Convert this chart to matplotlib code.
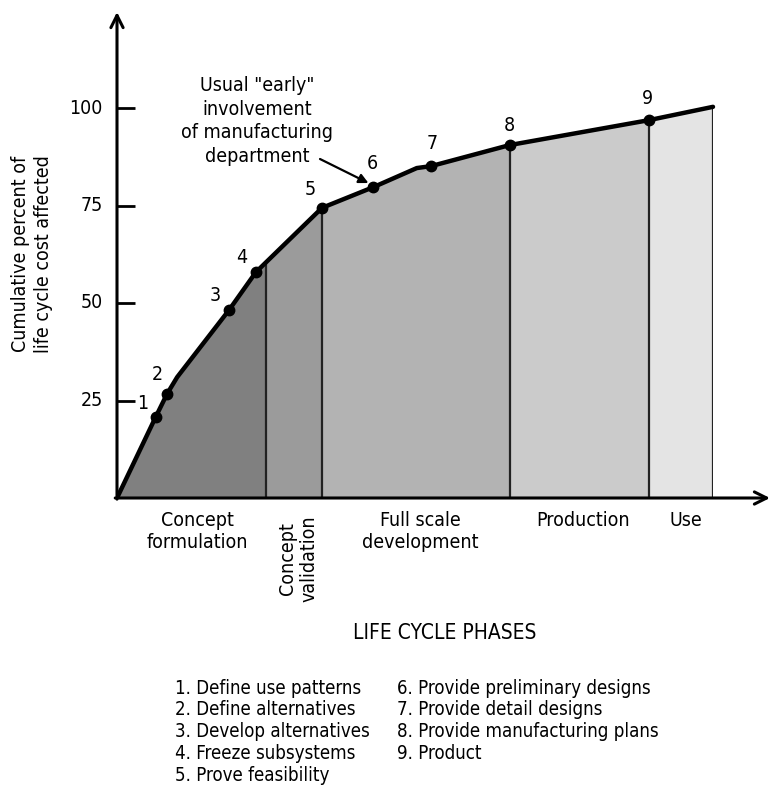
import matplotlib
matplotlib.use("Agg")
import matplotlib.pyplot as plt
from matplotlib.patches import Polygon
import numpy as np

# ---- data ----
curve_x = [0, 6.5, 8.4, 10.1, 18.8, 23.3, 34.4, 43.0, 50.3, 52.7, 65.9, 89.3, 100]
curve_y = [0, 20.8, 26.7, 31.0, 48.2, 57.9, 74.4, 79.7, 84.6, 85.1, 90.5, 96.9, 100.3]
milestone_idx = [1, 2, 4, 5, 6, 7, 9, 10, 11]
milestone_labels = ["1", "2", "3", "4", "5", "6", "7", "8", "9"]
phase_edges = [0, 25.0, 34.4, 65.9, 89.3, 100]
phase_names = ["Concept\nformulation", "Concept\nvalidation", "Full scale\ndevelopment",
               "Production", "Use"]
phase_colors = ["#808080", "#9b9b9b", "#b3b3b3", "#cbcbcb", "#e4e4e4"]
y_ticks = [25, 50, 75, 100]
legend_col1 = ["1. Define use patterns", "2. Define alternatives", "3. Develop alternatives",
               "4. Freeze subsystems", "5. Prove feasibility"]
legend_col2 = ["6. Provide preliminary designs", "7. Provide detail designs",
               "8. Provide manufacturing plans", "9. Product"]

plt.rcParams['font.family'] = ['DejaVu Sans']
plt.rcParams['font.stretch'] = 'condensed'
FS = 14
FS_LEG = 13.4

W, H = 774, 794
fig = plt.figure(figsize=(W / 100, H / 100), dpi=100)

def fx(px):
    return px / W

def fy(py):
    return 1 - py / H

# axes: origin at px (117, 498); x arrow tip at 770, y arrow tip at 12
ax = fig.add_axes([fx(117), fy(498), fx(770) - fx(117), fy(12) - fy(498)])
xmax = (770 - 117) / 5.96
ymax = (498 - 12) / 3.9
ax.set_xlim(0, xmax)
ax.set_ylim(0, ymax)
for s in ax.spines.values():
    s.set_visible(False)
ax.set_xticks([])
ax.set_yticks([])

# area under curve as clip polygon
cx = np.array(curve_x)
cy = np.array(curve_y)
poly_pts = np.column_stack([np.r_[cx, cx[-1], cx[0]], np.r_[cy, 0, 0]])
clip = Polygon(poly_pts, closed=True, transform=ax.transData, facecolor='none', edgecolor='none')
ax.add_patch(clip)

for i in range(len(phase_names)):
    sp = ax.axvspan(phase_edges[i], phase_edges[i + 1], facecolor=phase_colors[i],
                    edgecolor='none', zorder=1)
    sp.set_clip_path(clip)
    ln = ax.axvline(phase_edges[i + 1], color='#222222', lw=1.6, zorder=2)
    ln.set_clip_path(clip)

# curve
ax.plot(cx, cy, color='black', lw=3.2, solid_capstyle='round', solid_joinstyle='round', zorder=4)
ax.plot(cx[milestone_idx], cy[milestone_idx], 'o', color='black', ms=7.5, zorder=5)

offsets = [(-13, 13), (-10, 19), (-14, 15), (-14, 15), (-12, 18), (-1, 24), (1, 23), (0, 20), (-2, 22)]
for k, (i, lab) in enumerate(zip(milestone_idx, milestone_labels)):
    dx, dy = offsets[k]
    ax.annotate(lab, (cx[i], cy[i]), xytext=(dx * 0.72, dy * 0.72), textcoords='offset points',
                ha='center', va='center', fontsize=FS, zorder=6)

# axes arrows
ax.annotate('', xy=(xmax, 0), xytext=(-0.3, 0), xycoords='data',
            arrowprops=dict(arrowstyle='->', lw=2.2, color='black', mutation_scale=22,
                            shrinkA=0, shrinkB=0), annotation_clip=False)
ax.annotate('', xy=(0, ymax), xytext=(0, -0.3), xycoords='data',
            arrowprops=dict(arrowstyle='->', lw=2.2, color='black', mutation_scale=22,
                            shrinkA=0, shrinkB=0), annotation_clip=False)

# y ticks (inward) and labels
for t in y_ticks:
    ax.plot([0, 3.1], [t, t], color='black', lw=2.0, zorder=3, solid_capstyle='butt')
    ax.text(-2.4, t, str(t), ha='right', va='center', fontsize=FS)

# annotation
fig.text(fx(257), fy(121), 'Usual "early"\ninvolvement\nof manufacturing\ndepartment',
         ha='center', va='center', fontsize=FS, linespacing=1.33)
ax.annotate('', xy=(cx[7] - 0.6, cy[7] + 0.9), xytext=(fx(320), fy(159)),
            textcoords='figure fraction',
            arrowprops=dict(arrowstyle='-|>', lw=1.6, color='black', mutation_scale=14,
                            shrinkA=0, shrinkB=1))

# y label
fig.text(fx(32), fy(254), "Cumulative percent of\nlife cycle cost affected", rotation=90,
         ha='center', va='center', fontsize=FS, linespacing=1.25)

# phase labels
fig.text(fx(197), fy(511), phase_names[0], ha='center', va='top', fontsize=FS, linespacing=1.2)
fig.text(fx(298), fy(559), phase_names[1], rotation=90, ha='center', va='center', fontsize=FS,
         linespacing=1.2)
fig.text(fx(420), fy(511), phase_names[2], ha='center', va='top', fontsize=FS, linespacing=1.2)
fig.text(fx(583), fy(521), phase_names[3], ha='center', va='center', fontsize=FS)
fig.text(fx(686), fy(520), phase_names[4], ha='center', va='center', fontsize=FS)

fig.text(fx(445), fy(633), "LIFE CYCLE PHASES", ha='center', va='center', fontsize=15)

# legend of milestones
for j, s in enumerate(legend_col1):
    fig.text(fx(175), fy(688 + j * 21.8), s, ha='left', va='center', fontsize=FS_LEG)
for j, s in enumerate(legend_col2):
    fig.text(fx(397), fy(688 + j * 21.8), s, ha='left', va='center', fontsize=FS_LEG)

fig.savefig("out.png", dpi=100)
